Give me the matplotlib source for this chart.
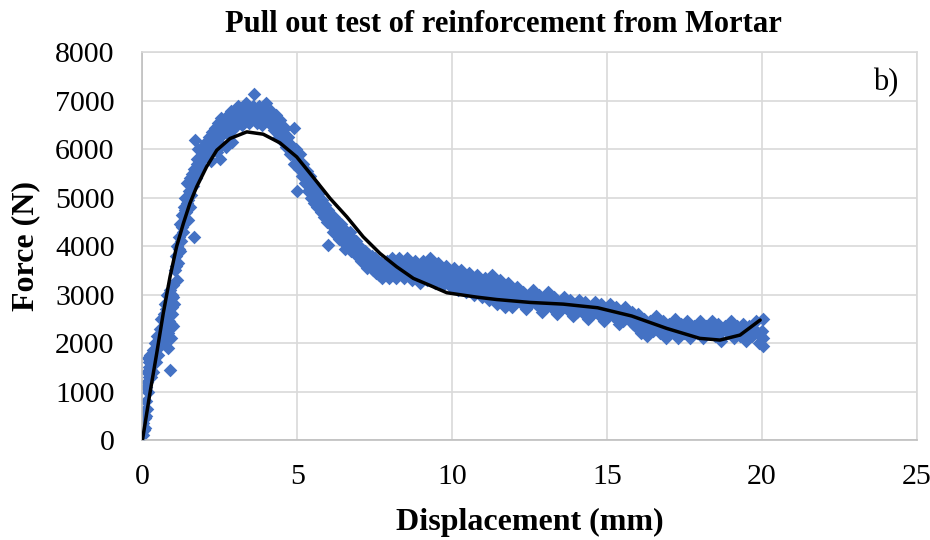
import matplotlib
matplotlib.use("Agg")
import matplotlib.pyplot as plt
import numpy as np

# measured points (displacement mm, force N), split by test phase
rise_x = [0.02, 0.03, 0.05, 0.06, 0.08, 0.10, 0.12, 0.13, 0.15, 0.17, 0.18, 0.20, 0.22, 0.25,
          0.28, 0.30, 0.33, 0.35, 0.38, 0.40, 0.43, 0.45, 0.48, 0.50, 0.53, 0.55, 0.58, 0.60,
          0.62, 0.65, 0.68, 0.70, 0.72, 0.75, 0.78, 0.80, 0.82, 0.84, 0.86, 0.88, 0.90, 0.90,
          0.92, 0.94, 0.95, 0.97, 1.00, 1.02,
          0.07, 0.11, 0.16, 0.21, 0.26, 0.36, 0.46, 0.56, 0.66, 0.76, 0.81, 0.87, 0.93, 0.96, 0.99]
rise_y = [100, 350, 200, 600, 450, 800, 1100, 650, 1400, 1000, 1700, 1300, 1600, 1750,
          1450, 1550, 1850, 1400, 1700, 2000, 1600, 1900, 2150, 1750, 2050, 2300, 1950, 2500,
          2200, 2050, 2600, 2350, 2800, 2500, 3000, 2700, 2200, 1900, 2450, 3100, 1450, 2850,
          2100, 2600, 3000, 2350, 3200, 2800,
          250, 500, 1200, 1500, 1300, 1600, 1750, 2100, 2300, 2700, 2400, 2750, 2400, 2750, 2950]

climb_x = [1.05, 1.08, 1.10, 1.12, 1.15, 1.18, 1.20, 1.22, 1.25, 1.28, 1.30, 1.33, 1.35, 1.38,
           1.40, 1.43, 1.45, 1.48, 1.50, 1.52, 1.55, 1.58, 1.60, 1.62, 1.65, 1.68, 1.70, 1.72,
           1.75, 1.78, 1.80, 1.85, 1.90, 1.95, 2.00, 2.05, 2.10, 2.15, 2.20, 2.25, 2.30,
           1.07, 1.17, 1.27, 1.37, 1.47, 1.57, 1.67, 1.77, 1.87, 1.97, 2.07, 2.17, 2.27]
climb_y = [3500, 3800, 3300, 4000, 3650, 4200, 3900, 4450, 4100, 4650, 4300, 4800, 4500, 5000,
           4700, 5300, 4900, 4550, 5150, 4800, 5400, 5050, 5500, 5250, 4200, 5600, 6200, 5400,
           5700, 6000, 5550, 5850, 5650, 6050, 5900, 6150, 5950, 6250, 5750, 6350, 6200,
           3600, 3950, 4400, 4750, 4950, 5250, 5350, 5800, 6000, 5800, 6000, 5950, 6100]

peak_x = [2.35, 2.40, 2.40, 2.45, 2.50, 2.50, 2.55, 2.55, 2.60, 2.65, 2.70, 2.70, 2.75, 2.80,
          2.85, 2.90, 2.90, 2.95, 3.00, 3.05, 3.10, 3.15, 3.20, 3.25, 3.30, 3.35, 3.40, 3.45,
          3.50, 3.55, 3.60, 3.65, 3.70, 3.75, 3.80, 3.85, 3.90, 3.95, 4.00, 4.05, 4.10, 4.15,
          4.20, 4.25, 4.30, 4.35, 4.40, 4.45, 4.50, 4.55, 4.60, 4.65, 4.70, 4.75, 4.80, 4.88,
          2.38, 2.48, 2.58, 2.68, 2.78, 2.88, 2.98, 3.08, 3.18, 3.28, 3.38, 3.48, 3.58, 3.68,
          3.78, 3.88, 3.98, 4.08, 4.18, 4.28, 4.38, 4.48, 4.58, 4.68, 4.78]
peak_y = [6450, 6300, 5950, 6550, 6400, 5800, 6650, 6100, 6450, 6600, 6350, 6050, 6700, 6500,
          6800, 6600, 6150, 6450, 6750, 6550, 6900, 6650, 6500, 6800, 6600, 6950, 6700, 6550,
          6850, 6650, 7150, 6750, 6550, 6900, 6700, 6500, 6850, 6650, 6950, 6750, 6550, 6800,
          6600, 6400, 6700, 6500, 6250, 6600, 6350, 6150, 6450, 6050, 6250, 5900, 6100, 6450,
          6150, 6250, 6300, 6500, 6300, 6400, 6600, 6700, 6750, 6650, 6800, 6700, 6900, 6650,
          6800, 6600, 6800, 6650, 6700, 6550, 6400, 6450, 6300, 6150, 6000]

fall_x = [4.85, 4.90, 4.95, 5.00, 5.00, 5.05, 5.10, 5.15, 5.20, 5.25, 5.30, 5.35, 5.40, 5.45,
          5.50, 5.55, 5.60, 5.65, 5.70, 5.75, 5.80, 5.85, 5.90, 5.95, 6.00, 6.00, 6.05, 6.10,
          6.15, 6.20, 6.25, 6.30, 6.35, 6.40, 6.45, 6.50, 6.55, 6.60, 6.65, 6.70, 6.75, 6.80,
          6.85, 6.90, 6.95, 7.00, 7.05, 7.10, 7.15, 7.20, 7.25, 7.30, 7.35, 7.40, 7.45, 7.50,
          4.93, 5.03, 5.13, 5.23, 5.33, 5.43, 5.53, 5.63, 5.73, 5.83, 5.93, 6.03, 6.13, 6.23,
          6.33, 6.43, 6.53, 6.63, 6.73, 6.83, 6.93, 7.03, 7.13, 7.23, 7.33, 7.43]
fall_y = [5900, 5700, 6000, 5800, 5150, 5600, 5900, 5450, 5700, 5300, 5550, 5150, 5450, 5000,
          5300, 4900, 5200, 4800, 5100, 4700, 4950, 4600, 4850, 4500, 4020, 4750, 4450, 4650,
          4300, 4600, 4250, 4500, 4150, 4450, 4100, 4350, 3950, 4250, 4050, 4300, 3900, 4150,
          3850, 4100, 3800, 4000, 3700, 3950, 3650, 3900, 3550, 3850, 3600, 3800, 3500, 3750,
          5850, 5700, 5650, 5500, 5350, 5250, 5100, 5000, 4900, 4800, 4650, 4600, 4500, 4400,
          4300, 4250, 4150, 4100, 4100, 4000, 3950, 3850, 3800, 3750, 3700, 3650]

mid_x = [7.55, 7.60, 7.65, 7.70, 7.75, 7.80, 7.85, 7.90, 7.95, 8.00, 8.05, 8.10, 8.15, 8.20,
         8.25, 8.30, 8.35, 8.40, 8.45, 8.50, 8.55, 8.60, 8.65, 8.70, 8.75, 8.80, 8.85, 8.90,
         8.95, 9.00, 9.05, 9.10, 9.15, 9.20, 9.25, 9.30, 9.35, 9.40, 9.45, 9.50, 9.55, 9.60,
         9.65, 9.70, 9.75, 9.80, 9.85, 9.90, 9.95, 10.00, 10.05, 10.10, 10.15, 10.20, 10.25,
         10.30, 10.35, 10.40, 10.45, 10.50, 10.55, 10.60, 10.65, 10.70, 10.75, 10.80, 10.85,
         10.90, 10.95, 11.00,
         7.58, 7.68, 7.78, 7.88, 7.98, 8.08, 8.18, 8.28, 8.38, 8.48, 8.58, 8.68, 8.78, 8.88,
         8.98, 9.08, 9.18, 9.28, 9.38, 9.48, 9.58, 9.68, 9.78, 9.88, 9.98, 10.08, 10.18,
         10.28, 10.38, 10.48, 10.58, 10.68, 10.78, 10.88, 10.98]
mid_y = [3450, 3700, 3400, 3650, 3350, 3600, 3400, 3700, 3350, 3550, 3750, 3400, 3650, 3350,
         3600, 3750, 3450, 3650, 3350, 3550, 3750, 3450, 3650, 3300, 3550, 3700, 3400, 3600,
         3250, 3500, 3700, 3400, 3600, 3300, 3550, 3750, 3400, 3600, 3250, 3500, 3650, 3350,
         3550, 3200, 3450, 3600, 3300, 3500, 3150, 3400, 3550, 3250, 3450, 3100, 3350,
         3500, 3200, 3400, 3050, 3300, 3450, 3150, 3350, 3000, 3250, 3400, 3100,
         3300, 2950, 3200,
         3550, 3500, 3500, 3550, 3500, 3550, 3500, 3550, 3550, 3500, 3550, 3500, 3500, 3500,
         3450, 3500, 3450, 3450, 3500, 3400, 3450, 3400, 3350, 3400, 3300, 3350, 3300,
         3250, 3300, 3200, 3250, 3200, 3150, 3200, 3100]

late_x = [11.05, 11.10, 11.15, 11.20, 11.25, 11.30, 11.35, 11.40, 11.45, 11.50, 11.55, 11.60,
          11.65, 11.70, 11.75, 11.80, 11.85, 11.90, 11.95, 12.00, 12.10, 12.20, 12.30, 12.40,
          12.50, 12.60, 12.70, 12.80, 12.90, 13.00, 13.10, 13.20, 13.30, 13.40, 13.50, 13.60,
          13.70, 13.80, 13.90, 14.00, 14.10, 14.20, 14.30, 14.40, 14.50, 14.60, 14.70, 14.80,
          14.90, 15.00, 15.10, 15.20, 15.30, 15.40, 15.50, 15.60, 15.70, 15.80, 15.90, 16.00,
          11.03, 11.13, 11.23, 11.33, 11.43, 11.53, 11.63, 11.73, 11.83, 11.93, 12.03, 12.13,
          12.23, 12.33, 12.43, 12.53, 12.63, 12.73, 12.83, 12.93, 13.03, 13.13, 13.23, 13.33,
          13.43, 13.53, 13.63, 13.73, 13.83, 13.93, 14.03, 14.13, 14.23, 14.33, 14.43, 14.53,
          14.63, 14.73, 14.83, 14.93, 15.03, 15.13, 15.23, 15.33, 15.43, 15.53, 15.63, 15.73,
          15.83, 15.93]
late_y = [3350, 3050, 3250, 2900, 3150, 3400, 3000, 3200, 2800, 3100, 3300, 2950,
          3150, 2750, 3050, 3250, 2900, 3100, 2750, 3000, 3150, 2850, 3050, 2700,
          2950, 3100, 2800, 3000, 2650, 2900, 3050, 2750, 2950, 2600, 2850, 2950,
          2700, 2900, 2550, 2800, 2900, 2650, 2850, 2500, 2750, 2850, 2600, 2800,
          2450, 2700, 2800, 2550, 2750, 2400, 2650, 2750, 2500, 2650, 2350, 2600,
          3150, 3100, 3050, 3150, 3000, 3050, 3000, 2950, 3050, 2900, 2850, 2950,
          2900, 2850, 2900, 2800, 2850, 2900, 2750, 2850, 2750, 2800, 2850, 2700,
          2800, 2700, 2750, 2800, 2650, 2750, 2650, 2700, 2750, 2600, 2700, 2600,
          2650, 2700, 2550, 2650, 2550, 2600, 2650, 2500, 2600, 2450, 2550, 2550,
          2400, 2500]

tail_x = [16.1, 16.2, 16.3, 16.4, 16.5, 16.6, 16.7, 16.8, 16.9, 17.0, 17.1, 17.2, 17.3, 17.4,
          17.5, 17.6, 17.7, 17.8, 17.9, 18.0, 18.1, 18.2, 18.3, 18.4, 18.5, 18.6, 18.7, 18.8,
          18.9, 19.0, 19.1, 19.2, 19.3, 19.4, 19.5, 19.6, 19.7, 19.8, 19.9, 19.95, 20.0,
          20.05, 20.05,
          16.03, 16.13, 16.23, 16.33, 16.43, 16.53, 16.63, 16.73, 16.83, 16.93, 17.03, 17.13,
          17.23, 17.33, 17.43, 17.53, 17.63, 17.73, 17.83, 17.93, 18.03, 18.13, 18.23, 18.33,
          18.43, 18.53, 18.63, 18.73, 18.83, 18.93, 19.03, 19.13, 19.23, 19.33, 19.43, 19.53,
          19.63, 19.73, 19.83, 19.93, 20.03]
tail_y = [2200, 2500, 2150, 2450, 2250, 2550, 2200, 2450, 2100, 2400, 2250, 2500, 2100, 2400,
          2200, 2450, 2100, 2350, 2200, 2450, 2100, 2350, 2200, 2450, 2150, 2400, 2050, 2350,
          2200, 2450, 2100, 2350, 2150, 2400, 2050, 2350, 2150, 2450, 2000, 2200, 2250,
          2500, 1950,
          2350, 2300, 2350, 2300, 2300, 2400, 2350, 2300, 2300, 2250, 2250, 2350,
          2300, 2250, 2300, 2300, 2250, 2300, 2250, 2300, 2300, 2250, 2250, 2300,
          2300, 2300, 2250, 2250, 2300, 2300, 2250, 2250, 2300, 2300, 2250, 2250,
          2250, 2300, 2250, 2150, 2100]

# polynomial trendline
trend_x = [0, 0.24, 0.46, 0.67, 0.89, 1.10, 1.32, 1.53, 1.75, 2.07, 2.40, 2.83, 3.37, 3.90,
           4.44, 4.98, 5.52, 6.06, 6.60, 7.13, 7.67, 8.21, 8.75, 9.29, 9.83, 10.36, 10.79,
           11.44, 12.52, 13.59, 14.70, 15.80, 16.93, 18.0, 18.65, 19.3, 19.95]
trend_y = [0, 963, 1788, 2613, 3370, 3988, 4470, 4883, 5226, 5639, 5983, 6224, 6361, 6313,
           6134, 5845, 5420, 4987, 4607, 4194, 3852, 3576, 3336, 3190, 3040, 2990, 2950,
           2900, 2840, 2805, 2730, 2560, 2304, 2098, 2063, 2166, 2476]

x_ticks = [0, 5, 10, 15, 20, 25]
y_ticks = [0, 1000, 2000, 3000, 4000, 5000, 6000, 7000, 8000]

disp = np.concatenate([rise_x, climb_x, peak_x, fall_x, mid_x, late_x, tail_x])
force = np.concatenate([rise_y, climb_y, peak_y, fall_y, mid_y, late_y, tail_y])

plt.rcParams['font.family'] = ['Liberation Serif', 'DejaVu Serif']

fig = plt.figure(figsize=(9.3, 5.4), dpi=100)
ax = fig.add_axes([0.1532, 0.1852, 0.8323, 0.7176])

ax.scatter(disp, force, marker='D', s=48, color='#4472C4', linewidths=0, zorder=2)
ax.plot(trend_x, trend_y, color='black', linewidth=2.5, zorder=3,
        solid_joinstyle='round', solid_capstyle='round')

ax.set_xlim(0, 25)
ax.set_ylim(0, 8000)
ax.set_xticks(x_ticks)
ax.set_yticks(y_ticks)
ax.tick_params(axis='both', length=0, labelsize=21.5)
ax.tick_params(axis='x', pad=17)
ax.tick_params(axis='y', pad=20)

#grade cinza clara
ax.grid(True, color='#D9D9D9', linewidth=1.2, zorder=0)
ax.set_axisbelow(True)
for side in ['top', 'right']:
    ax.spines[side].set_color('#D9D9D9')
    ax.spines[side].set_linewidth(1.2)
for side in ['left', 'bottom']:
    ax.spines[side].set_color('#BFBFBF')
    ax.spines[side].set_linewidth(1.2)

ax.set_xlabel('Displacement (mm)', fontsize=23, fontweight='bold', labelpad=13)
ax.set_ylabel('Force (N)', fontsize=23, fontweight='bold', labelpad=11)
fig.text(0.541, 0.955, 'Pull out test of reinforcement from Mortar', fontsize=22,
         fontweight='bold', ha='center', va='center')
ax.text(0.976, 0.923, 'b)', transform=ax.transAxes, fontsize=22, ha='right', va='center')

fig.savefig('out.png', dpi=100)
